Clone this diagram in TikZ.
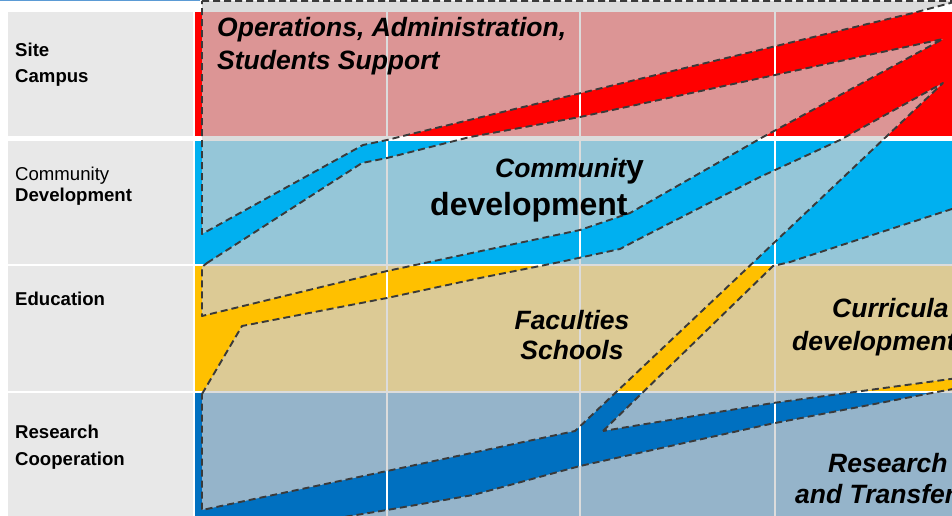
\documentclass[tikz,border=0pt]{standalone}
\usepackage{fontspec}
\setmainfont{Liberation Sans}
\definecolor{bandred}{RGB}{255,0,0}
\definecolor{bandcyan}{RGB}{0,176,240}
\definecolor{bandyellow}{RGB}{255,192,0}
\definecolor{bandblue}{RGB}{0,112,192}
\definecolor{labelgray}{RGB}{232,232,232}
\definecolor{veilgray}{RGB}{207,207,207}
\definecolor{dashgray}{RGB}{58,58,58}
\definecolor{slideblue}{RGB}{91,155,213}
\tikzset{
  rowlabel/.style={anchor=base west, inner sep=0pt, font=\fontsize{18.6}{22}\selectfont},
  rowlabelb/.style={rowlabel, font=\fontsize{18.6}{22}\selectfont\bfseries},
  flowtext/.style={inner sep=0pt, font=\fontsize{26.5}{32}\selectfont\bfseries\itshape},
  veil/.style={fill=veilgray, fill opacity=0.72, draw=dashgray, line width=1.9pt,
    dash pattern=on 7pt off 4pt, line join=round},
}
\begin{document}
\begin{tikzpicture}[x=1pt,y=-1pt]
	\useasboundingbox (0,0) rectangle (952,516);
	
	% Kantlinje oppe
	\draw[slideblue, line width=2pt] (0,0.5) -- (200,0.5);
	
	% Rader med etikettfelt
	\foreach \top/\bot/\col in {12.5/136/bandred, 140.5/263.5/bandcyan, 266/390.5/bandyellow, 393/516/bandblue}{
		\fill[labelgray] (8,\top) rectangle (193,\bot);
		\fill[\col] (195,\top) rectangle (952,\bot);
	}
	
	% Rutenett
	\foreach \x in {387,580,775}
	\draw[white, line width=2.7pt] (\x,12.5) -- (\x,516);
	
	% Slør mellom strømmene
	\draw[veil] (202,1) -- (958,1) -- (913,13) -- (407,135) -- (387,140) -- (363,145) -- (202,234) -- cycle;
	\draw[veil] (207,263) -- (362,163) -- (387,158) -- (470,137) -- (580,117) -- (775,75) -- (943,39)
		-- (763,137) -- (630,213) -- (580,230) -- (387,271) -- (202,316) -- (202,267) -- cycle;
	\draw[veil] (202,394) -- (242,326) -- (387,298) -- (480,278) -- (560,262) -- (620,249) -- (637,240)
		-- (760,177) -- (840,140) -- (943,83) -- (575,431) -- (387,471) -- (202,510) -- cycle;
	\draw[veil] (603,431) -- (773,266) -- (790,262) -- (958,207) -- (958,378) -- (773,403) -- cycle;
	\draw[veil] (313,522) -- (350,516) -- (387,510) -- (473,495) -- (580,466) -- (770,424) -- (958,388)
		-- (958,522) -- cycle;
	
	% Radetiketter
	\node[rowlabelb] (lsite) at (15,57) {Site};
	\node[rowlabelb] (lcampus) at (15,83) {Campus};
	\node[rowlabel] (lcomm) at (15,180) {Community};
	\node[rowlabelb] (ldev) at (15,201) {Development};
	\node[rowlabelb] (ledu) at (15,305) {Education};
	\node[rowlabelb] (lres) at (15,438) {Research};
	\node[rowlabelb] (lcoop) at (15,465) {Cooperation};
	
	% Tekst i feltene
	\node[flowtext, anchor=base west] (ops1) at (217,37) {Operations, Administration,};
	\node[flowtext, anchor=base west] (ops2) at (217,70) {Students Support};
	\node[flowtext, anchor=base west, font=\fontsize{32}{38}\selectfont\bfseries] (comm) at (495,177)
		{{\fontsize{26.5}{32}\selectfont\itshape Communit}y};
	\node[flowtext, anchor=base west, font=\fontsize{32}{38}\selectfont\bfseries] (dev) at (430,215) {development};
	\node[flowtext, anchor=base] (fac) at (572,329) {Faculties};
	\node[flowtext, anchor=base] (sch) at (572,359) {Schools};
	\node[flowtext, anchor=base west] (cur1) at (832,317) {Curricula};
	\node[flowtext, anchor=base west] (cur2) at (792,350) {development};
	\node[flowtext, anchor=base west] (res1) at (828,472) {Research};
	\node[flowtext, anchor=base west] (res2) at (795,503) {and Transfer};
\end{tikzpicture}
\end{document}
